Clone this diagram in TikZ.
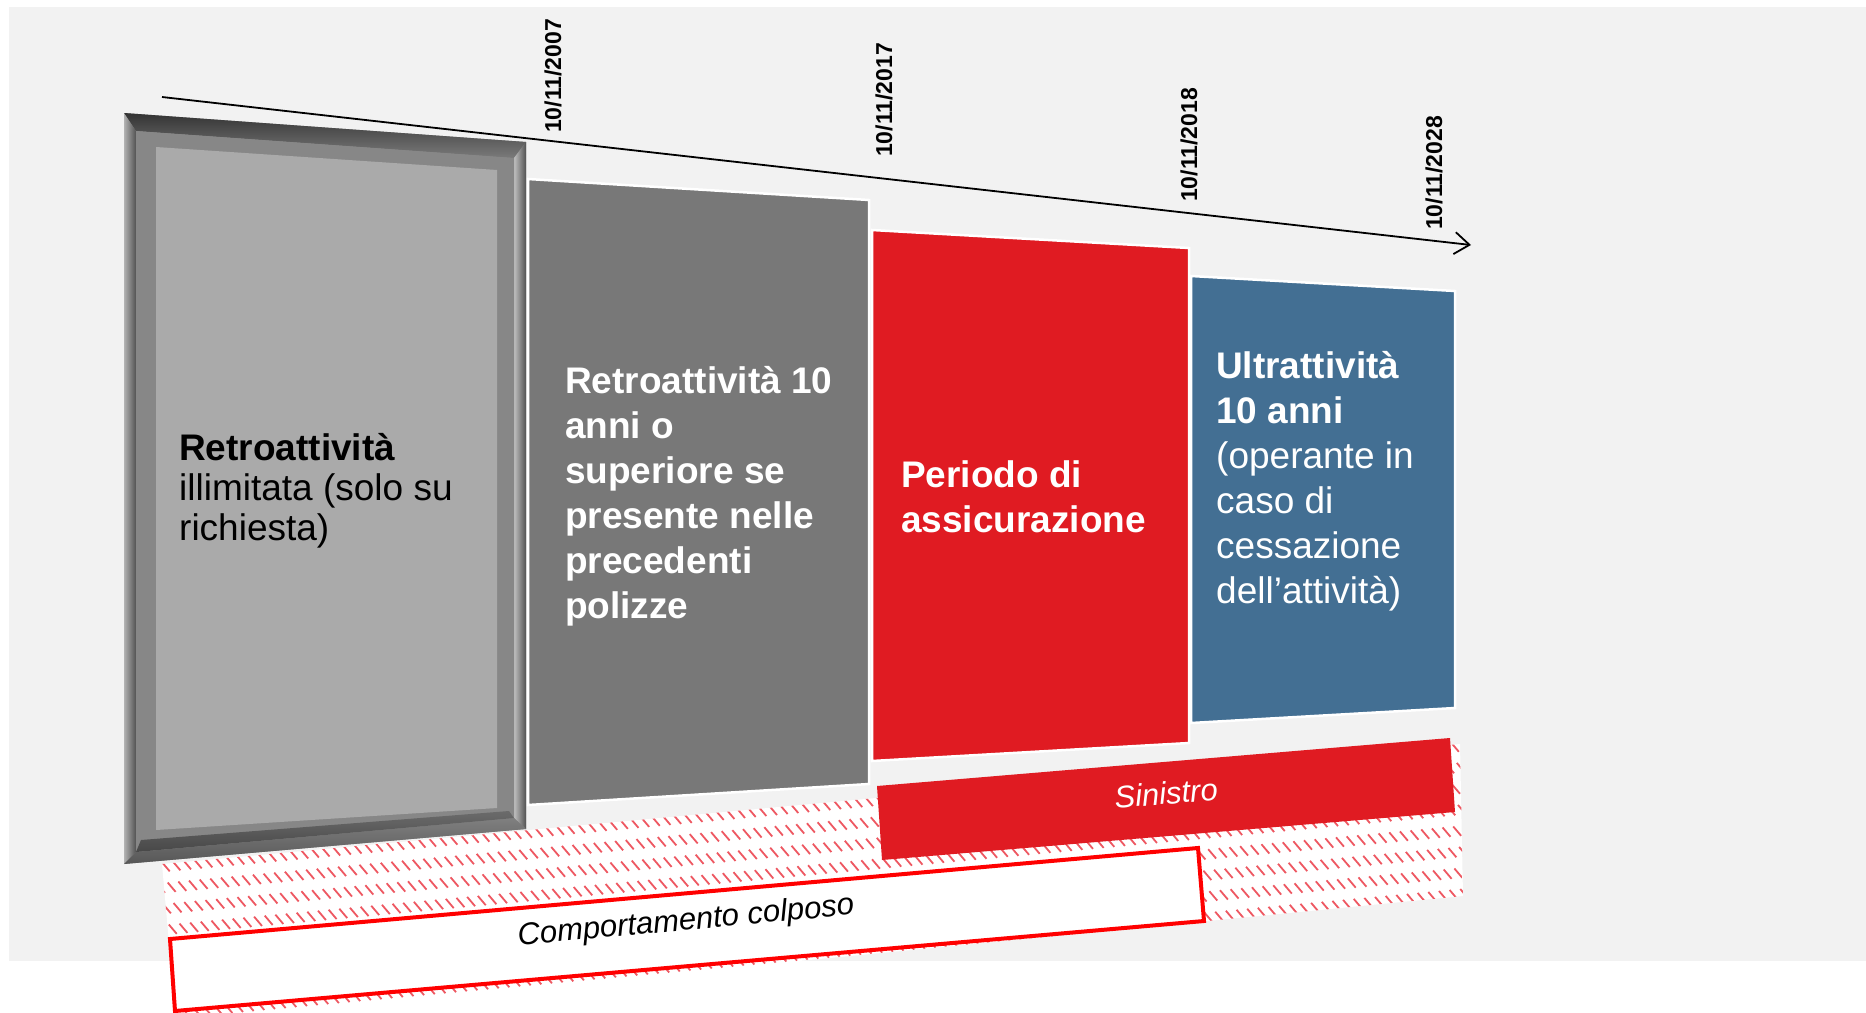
\documentclass[tikz,border=0pt]{standalone}
\usepackage{fontspec}
\setmainfont{Liberation Sans}
\usetikzlibrary{arrows.meta}
\definecolor{bggray}{HTML}{F2F2F2}
\definecolor{boxgray}{HTML}{787878}
\definecolor{boxred}{HTML}{E01B22}
\definecolor{boxblue}{HTML}{436F93}
\definecolor{hatchred}{HTML}{EE5862}
\definecolor{framemid}{HTML}{878787}
\definecolor{framelight}{HTML}{AAAAAA}
\definecolor{linered}{HTML}{FF0000}
\tikzset{
  panel/.style={draw=white, line width=2.5pt, line join=miter},
  boxtext/.style={anchor=base west, align=left, inner sep=0pt, font=\fontsize{37}{45}\selectfont, text=white},
  datelabel/.style={rotate=90, anchor=west, inner sep=0pt, font=\fontsize{23}{27}\selectfont\bfseries},
  hatchline/.style={hatchred, line width=1.8pt, dash pattern=on 12.2pt off 13.4pt},
  axisline/.style={line width=1.8pt, -{Straight Barb[length=15pt,width=22pt,line width=1.8pt]}},
  bandtext/.style={inner sep=0pt, font=\fontsize{31}{37}\selectfont\itshape}
}
\begin{document}
\begin{tikzpicture}[x=1pt,y=-1pt]
\useasboundingbox (0,0) rectangle (1866,1012);
\clip (0,0) rectangle (1866,1012);
% background
\fill[bggray] (9,7) rectangle (1866,961);

% axis
\coordinate (axS) at (162,97);
\coordinate (axE) at (1471,245);
\draw[axisline] (axS) -- (axE);

% date labels
\node[datelabel] (d2007) at (553,133) {10/11/2007};
\node[datelabel] (d2017) at (884,157) {10/11/2017};
\node[datelabel] (d2018) at (1189,202) {10/11/2018};
\node[datelabel] (d2028) at (1434,230) {10/11/2028};

% hatched region
\begin{scope}
  \clip (162,864) -- (1460,744) -- (1463,896) -- (176,1022) -- cycle;
  \fill[white] (150,700) rectangle (1480,1012);
  \begin{scope}[rotate around={5.3:(162,864)}]
    \foreach \k in {-20,...,140} {
      \draw[hatchline] ({162+10.7*\k},862) -- ++(140,200);
    }
  \end{scope}
\end{scope}

% frame (box 1)
\coordinate (oTL) at (124,113); \coordinate (oTR) at (526,142);
\coordinate (oBR) at (526,829); \coordinate (oBL) at (124,864);
\coordinate (mTL) at (136,131); \coordinate (mTR) at (514,158);
\coordinate (mBR) at (514,818); \coordinate (mBL) at (136,852);
\coordinate (nBL) at (141,840); \coordinate (nBR) at (509,811);
\coordinate (iTL) at (156,147); \coordinate (iTR) at (497,170);
\coordinate (iBR) at (497,808); \coordinate (iBL) at (156,830);
\fill[framemid] (oTL) -- (oTR) -- (oBR) -- (oBL) -- cycle;
\shade[top color=black!80, bottom color=black!52] (oTL) -- (oTR) -- (mTR) -- (mTL) -- cycle;
\shade[left color=black!30, right color=black!68] (oTL) -- (mTL) -- (mBL) -- (oBL) -- cycle;
\shade[left color=black!25, right color=black!68] (mTR) -- (oTR) -- (oBR) -- (mBR) -- cycle;
\shade[top color=black!50, bottom color=black!66] (mBL) -- (mBR) -- (oBR) -- (oBL) -- cycle;
\fill[framemid] (mTL) -- (mTR) -- (mBR) -- (mBL) -- cycle;
\shade[top color=black!58, bottom color=black!72] (nBL) -- (nBR) -- (mBR) -- (mBL) -- cycle;
\fill[framelight] (iTL) -- (iTR) -- (iBR) -- (iBL) -- cycle;

% box 2, 3, 4
\fill[boxgray, panel] (528,179) -- (869,200) -- (869,784) -- (528,805) -- cycle;
\fill[boxred, panel] (872,230) -- (1189,248) -- (1189,743) -- (872,761) -- cycle;
\fill[boxblue, panel] (1191,276) -- (1455,291) -- (1455,708) -- (1191,723) -- cycle;

% texts in boxes (base anchor = baseline of the last line)
\node[boxtext, text=black, font=\fontsize{37}{40}\selectfont] (t1) at (179,540)
  {\textbf{Retroattività}\\illimitata (solo su\\richiesta)};
\node[boxtext, font=\fontsize{37}{45}\selectfont\bfseries] (t2) at (565,618)
  {Retroattività 10\\anni o\\superiore se\\presente nelle\\precedenti\\polizze};
\node[boxtext, font=\fontsize{37}{45}\selectfont\bfseries] (t3) at (901,532)
  {Periodo di\\assicurazione};
\node[boxtext] (t4) at (1216,603)
  {\textbf{Ultrattività}\\\textbf{10 anni}\\(operante in\\caso di\\cessazione\\dell’attività)};

% Sinistro band
\fill[boxred] (877,786) -- (1450,738) -- (1455,812) -- (882,860) -- cycle;
\node[bandtext, text=white, rotate=4.8] (sin) at (1166,793) {Sinistro};

% Comportamento colposo box
\filldraw[fill=white, draw=linered, line width=4pt, line join=miter] (170,939) -- (1198,848) -- (1204,921) -- (175,1011) -- cycle;
\node[bandtext, text=black, rotate=5.3] (comp) at (686,922) {Comportamento colposo};
\end{tikzpicture}
\end{document}
